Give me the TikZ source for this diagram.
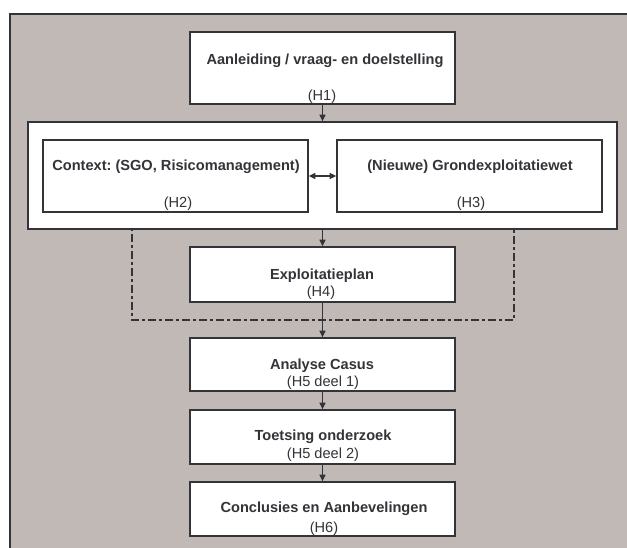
\documentclass[tikz,border=0pt]{standalone}
\usepackage{fontspec}
\setmainfont{Liberation Sans}
\usetikzlibrary{arrows.meta}
\frenchspacing
\definecolor{panel}{RGB}{192,185,182}
\definecolor{ink}{RGB}{51,51,56}
\tikzset{
  box/.style={draw=ink, fill=white, line width=1.6pt, inner sep=0pt},
  title/.style={text=ink, font=\fontsize{14.6}{16}\selectfont\bfseries, inner sep=0pt},
  sub/.style={text=ink, font=\fontsize{14.6}{16}\selectfont, inner sep=0pt},
  arr/.style={draw=ink, line width=1.1pt, -{Triangle[length=6.5pt,width=6pt]}},
  dbl/.style={draw=ink, line width=1.1pt, {Triangle[length=6.5pt,width=6pt]}-{Triangle[length=6.5pt,width=6pt]}},
  dashdot/.style={draw=ink, line width=1.6pt, dash pattern=on 8pt off 3pt on 3pt off 3pt}
}
\begin{document}
\begin{tikzpicture}[x=1pt, y=-1pt]
\useasboundingbox (0,0) rectangle (627,548);
\clip (0,0) rectangle (627,548);
% outer panel
\path[fill=panel, draw=ink, line width=2pt] (10,14) rectangle (660,580);

% dash-dot frame around the plan
\draw[dashdot] (132,200) -- (132,320) -- (514,320) -- (514,200);

% boxes
\node[box, minimum width=265pt, minimum height=72pt] (top) at (322.5,68) {};
\node[box, minimum width=589pt, minimum height=107pt] (cont) at (322.5,175.5) {};
\node[box, minimum width=265pt, minimum height=72pt] (ctx) at (175.5,176) {};
\node[box, minimum width=265pt, minimum height=72pt] (gew) at (469.5,176) {};
\node[box, minimum width=265pt, minimum height=55pt] (plan) at (322.5,274.5) {};
\node[box, minimum width=265pt, minimum height=53pt] (cas) at (322.5,364.5) {};
\node[box, minimum width=265pt, minimum height=54pt] (toets) at (322.5,437) {};
\node[box, minimum width=265pt, minimum height=54pt] (concl) at (322.5,509) {};

% texts
\node[title] (topT) at (325,61) {Aanleiding / vraag- en doelstelling};
\node[sub] (topS) at (322,97) {(H1)};
\node[title] (ctxT) at (176,167) {Context: (SGO, Risicomanagement)};
\node[sub] (ctxS) at (178,204) {(H2)};
\node[title] (gewT) at (470,167) {(Nieuwe) Grondexploitatiewet};
\node[sub] (gewS) at (471,204) {(H3)};
\node[title] (planT) at (322,276) {Exploitatieplan};
\node[sub] (planS) at (321,293) {(H4)};
\node[title] (casT) at (322,366) {Analyse Casus};
\node[sub] (casS) at (323,383) {(H5 deel 1)};
\node[title] (toetsT) at (323,437) {Toetsing onderzoek};
\node[sub] (toetsS) at (323,455) {(H5 deel 2)};
\node[title] (conclT) at (324,509) {Conclusies en Aanbevelingen};
\node[sub] (conclS) at (324,529) {(H6)};

% connectors
\draw[arr] (top.south) -- (cont.north);
\draw[dbl] (ctx.east |- 0,176) -- (gew.west |- 0,176);
\draw[arr] (cont.south) -- (plan.north);
\draw[arr] (plan.south) -- (cas.north);
\draw[arr] (cas.south) -- (toets.north);
\draw[arr] (toets.south) -- (concl.north);
\end{tikzpicture}
\end{document}
